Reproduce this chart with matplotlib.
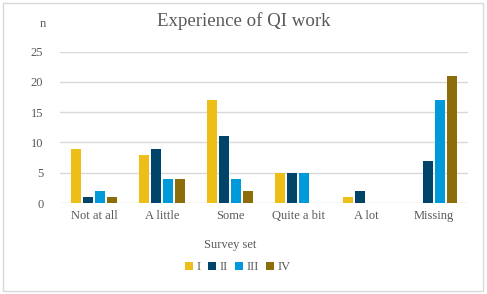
import matplotlib
matplotlib.use("Agg")
import matplotlib.pyplot as plt
import numpy as np
from matplotlib.patches import Rectangle

categories = ["Not at all", "A little", "Some", "Quite a bit", "A lot", "Missing"]
series_names = ["I", "II", "III", "IV"]
s1 = [9, 8, 17, 5, 1, 0]
s2 = [1, 9, 11, 5, 2, 7]
s3 = [2, 4, 4, 5, 0, 17]
s4 = [1, 4, 2, 0, 0, 21]
colors = ["#EDBD18", "#00446A", "#009ADA", "#8C6D0A"]
yticks = [0, 5, 10, 15, 20, 25]

plt.rcParams['font.family'] = ['Liberation Serif', 'DejaVu Serif']
txt = "#595959"

fig = plt.figure(figsize=(4.87, 2.94), dpi=100)
ax = fig.add_axes([60/487, (294-203)/294, 408/487, (203-51.7)/294])

x = np.arange(len(categories))
step = 12/68
width = 10/68
for i, (vals, c, n) in enumerate(zip([s1, s2, s3, s4], colors, series_names)):
    ax.bar(x + (i - 1.5) * step, vals, width, color=c, label=n, zorder=3)

ax.set_xlim(-0.5, len(categories) - 0.5)
ax.set_ylim(0, 25)
ax.set_yticks(yticks)
ax.set_yticklabels([str(v) for v in yticks])
ax.set_xticks(x)
ax.set_xticklabels(categories)
ax.grid(axis='y', color="#D9D9D9", linewidth=1, zorder=0)
for s in ax.spines.values():
    s.set_visible(False)
ax.tick_params(axis='both', length=0, colors=txt, labelsize=9)
ax.tick_params(axis='y', pad=12)
ax.tick_params(axis='x', pad=5)

fig.text(243.5/487, 1 - 21/294, "Experience of QI work", ha='center', va='center', fontsize=13.6, color=txt)
fig.text(43/487, 1 - 24/294, "n", ha='center', va='center', fontsize=9, color=txt)
fig.text(230/487, 1 - 245/294, "Survey set", ha='center', va='center', fontsize=9, color=txt)

leg = fig.legend(loc='center', bbox_to_anchor=(238/487, 1 - 267/294), ncol=4, frameon=False,
                 fontsize=9, handlelength=0.6, handleheight=0.6, handletextpad=0.3, columnspacing=0.6,
                 labelcolor=txt)

fig.patches.append(Rectangle((3/487, 3/294), 480/487, 288/294, transform=fig.transFigure,
                             fill=False, edgecolor="#D9D9D9", linewidth=1))

fig.savefig("out.png", dpi=100)
